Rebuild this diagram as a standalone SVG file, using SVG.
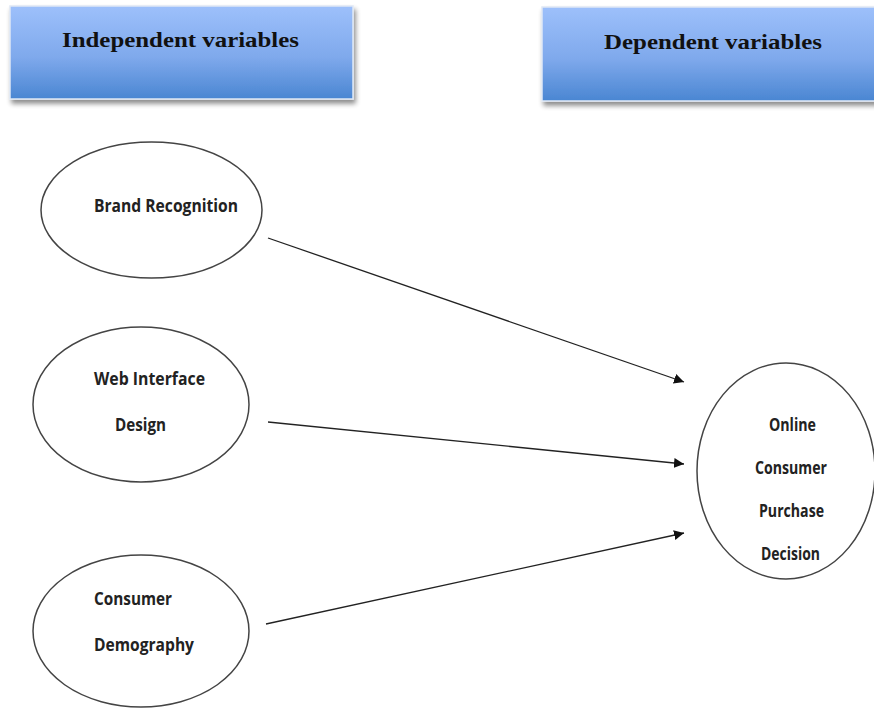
<svg xmlns="http://www.w3.org/2000/svg" width="874" height="708" viewBox="0 0 874 708">
<defs>
<linearGradient id="hdr" x1="0" y1="0" x2="0" y2="1">
<stop offset="0" stop-color="#9dc0fb"/>
<stop offset="0.55" stop-color="#7fa9ec"/>
<stop offset="1" stop-color="#4a86d2"/>
</linearGradient>
<filter id="sh" x="-5%" y="-10%" width="115%" height="130%">
<feGaussianBlur in="SourceAlpha" stdDeviation="2.5"/>
<feOffset dx="2" dy="4"/>
<feComponentTransfer><feFuncA type="linear" slope="0.45"/></feComponentTransfer>
<feMerge><feMergeNode/><feMergeNode in="SourceGraphic"/></feMerge>
</filter>
<marker id="ah" viewBox="0 0 10 10" refX="10" refY="5" markerWidth="10" markerHeight="10" markerUnits="userSpaceOnUse" orient="auto">
<path d="M0,0 L10,5 L0,10 z" fill="#111"/>
</marker>
</defs>
<style>
.hdr{fill:url(#hdr);stroke:#dfe8f5;stroke-width:1.5}
.ht{font-family:"Liberation Serif",serif;font-weight:bold;font-size:22px;fill:#111}
.ell{fill:#fff;stroke:#444;stroke-width:1.5}
.nt{font-family:"Open Sans","Liberation Sans",sans-serif;font-weight:bold;font-size:17px;fill:#222}
.con{stroke:#222;stroke-width:1.3;fill:none;marker-end:url(#ah)}
</style>
<rect width="874" height="708" fill="#fff"/>
<g id="hdr-independent">
<rect class="hdr" x="10" y="6" width="343" height="93" filter="url(#sh)"/>
<text class="ht" x="62" y="47" textLength="237" lengthAdjust="spacingAndGlyphs">Independent variables</text>
</g>
<g id="hdr-dependent">
<rect class="hdr" x="542" y="7" width="340" height="94" filter="url(#sh)"/>
<text class="ht" x="604" y="49" textLength="218" lengthAdjust="spacingAndGlyphs">Dependent variables</text>
</g>
<g id="connectors">
<line class="con" x1="268" y1="238" x2="684" y2="382"/>
<line class="con" x1="268" y1="422" x2="684" y2="464"/>
<line class="con" x1="266" y1="624" x2="684" y2="533"/>
</g>
<g id="brand-recognition">
<ellipse class="ell" cx="151.5" cy="210" rx="110.5" ry="68"/>
<text class="nt" x="94" y="212" textLength="144" lengthAdjust="spacingAndGlyphs">Brand Recognition</text>
</g>
<g id="web-interface-design">
<ellipse class="ell" cx="141" cy="404.5" rx="108" ry="77.5"/>
<text class="nt" x="94" y="385" textLength="111" lengthAdjust="spacingAndGlyphs">Web Interface</text>
<text class="nt" x="115" y="431" textLength="51" lengthAdjust="spacingAndGlyphs">Design</text>
</g>
<g id="consumer-demography">
<ellipse class="ell" cx="141" cy="631" rx="108" ry="76"/>
<text class="nt" x="94" y="605" textLength="78" lengthAdjust="spacingAndGlyphs">Consumer</text>
<text class="nt" x="94" y="651" textLength="100" lengthAdjust="spacingAndGlyphs">Demography</text>
</g>
<g id="online-consumer-purchase-decision">
<ellipse class="ell" cx="786" cy="471" rx="89" ry="108"/>
<text class="nt" x="769" y="431" textLength="47" lengthAdjust="spacingAndGlyphs">Online</text>
<text class="nt" x="755" y="474" textLength="72" lengthAdjust="spacingAndGlyphs">Consumer</text>
<text class="nt" x="759" y="517" textLength="65" lengthAdjust="spacingAndGlyphs">Purchase</text>
<text class="nt" x="761" y="560" textLength="59" lengthAdjust="spacingAndGlyphs">Decision</text>
</g>
</svg>
